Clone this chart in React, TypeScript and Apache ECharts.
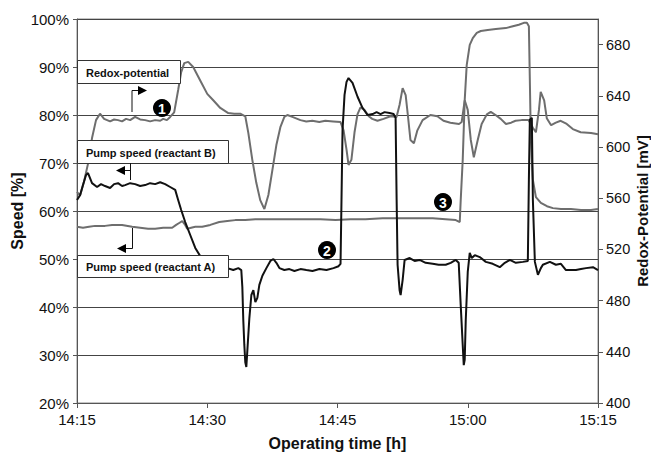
import React, { useEffect, useRef } from "react";
import * as echarts from "echarts";

// time in minutes after 14:15
const xTicks = ["14:15", "14:30", "14:45", "15:00", "15:15"];
const speedTicks = [20, 30, 40, 50, 60, 70, 80, 90, 100];
const redoxTicks = [400, 440, 480, 520, 560, 600, 640, 680];

// Redox-potential [mV] (right axis)
const redoxData: number[][] = [
  [0, 565], [0.35, 562], [0.81, 573], [1.27, 587], [1.73, 607], [2.19, 621], [2.65, 626], [3.12, 622],
  [3.81, 620], [4.27, 621.5], [4.73, 621], [5.19, 620], [5.65, 622], [6.12, 621], [6.69, 623.5],
  [7.27, 621.5], [7.85, 621], [8.42, 620], [9.0, 621], [9.58, 620.5], [9.92, 622], [10.35, 621],
  [10.73, 623.5], [11.19, 627], [11.65, 644.5], [12.0, 658.5], [12.35, 665.5], [12.81, 666.5],
  [13.38, 662.5], [14.19, 652], [15.0, 641.5], [15.69, 636.5], [16.5, 630.5], [17.42, 626.5],
  [18.1, 626], [18.8, 626], [19.38, 624], [19.73, 611], [20.19, 590], [20.65, 572], [21.1, 558.5],
  [21.58, 551.5], [22.04, 562.5], [22.5, 582], [22.96, 601.5], [23.42, 615.5], [23.88, 623.5],
  [24.23, 625], [24.8, 623.5], [25.73, 621], [26.4, 620], [27.1, 620.5], [27.9, 619.5], [28.6, 620.5],
  [29.5, 620], [30.35, 619.5], [30.7, 613], [31.04, 598], [31.27, 586], [31.6, 590], [31.96, 611.5],
  [32.3, 625.5], [32.65, 631], [33.1, 629], [33.6, 624], [34.0, 622], [34.6, 620.5], [35.3, 622],
  [36.1, 624], [36.8, 623.5], [37.15, 633], [37.5, 646], [37.85, 640.5], [38.1, 625], [38.4, 605.5],
  [38.8, 603], [39.2, 613], [39.8, 621], [40.7, 625], [41.5, 624], [42.2, 620.5], [43.0, 619],
  [44.0, 618], [44.3, 619.5], [44.65, 636.5], [45.0, 629], [45.35, 605.5], [45.7, 592], [46.15, 605.5],
  [46.6, 618], [47.2, 625.5], [47.65, 627.5], [48.2, 625], [48.8, 622], [49.4, 618], [50.0, 619],
  [50.5, 620.5], [51.2, 621], [52.0, 621], [52.5, 615], [52.85, 611.5], [53.2, 629], [53.4, 643],
  [53.8, 636.5], [54.1, 622.5], [54.6, 617], [55.15, 619], [55.7, 620.5], [56.4, 618], [57.1, 614],
  [58.0, 611.5], [59.2, 611], [60, 610],
];

// Pump speed (reactant B) [%] (black)
const pumpBData: number[][] = [
  [0, 62.3], [0.35, 63.3], [0.69, 65.4], [1.04, 67.5], [1.27, 67.9], [1.73, 65.8], [2.31, 65.0],
  [2.77, 65.6], [3.23, 65.2], [3.81, 64.8], [4.27, 65.6], [4.73, 65.8], [5.19, 65.2], [5.54, 65.4],
  [6.12, 65.8], [6.69, 65.6], [7.27, 65.2], [7.85, 65.4], [8.42, 65.8], [9.0, 65.6], [9.58, 66.0],
  [10.15, 65.6], [10.73, 65.0], [11.31, 64.4], [11.65, 62.3], [12.0, 60.2], [12.46, 57.7],
  [13.04, 55.0], [13.62, 52.3], [14.19, 50.6], [14.88, 49.4], [15.69, 48.8], [16.5, 48.3],
  [17.31, 48.1], [18.0, 47.7], [18.58, 48.1], [18.92, 47.7], [19.04, 44.2], [19.15, 37.3],
  [19.27, 32.1], [19.38, 28.5], [19.5, 27.5], [19.62, 31.0], [19.85, 37.7], [20.08, 42.5],
  [20.31, 43.5], [20.54, 41.0], [20.77, 41.9], [21.0, 44.6], [21.35, 46.5], [21.81, 48.1],
  [22.27, 49.6], [22.62, 50.0], [22.96, 49.2], [23.31, 48.1], [23.88, 47.7], [24.46, 47.9],
  [25.04, 47.5], [25.73, 47.9], [26.42, 47.7], [27.12, 47.5], [27.92, 47.9], [28.73, 47.7],
  [29.54, 48.1], [30.12, 48.5], [30.35, 49.0], [30.46, 62.3], [30.58, 76.9], [30.81, 84.2],
  [31.04, 86.9], [31.27, 87.7], [31.73, 86.7], [32.31, 83.8], [32.88, 81.5], [33.46, 80.0],
  [34.04, 80.2], [34.5, 80.6], [34.96, 80.2], [35.42, 80.6], [36.0, 80.4], [36.46, 80.2],
  [36.69, 79.4], [36.81, 62.3], [36.92, 48.8], [37.15, 43.5], [37.27, 42.5], [37.5, 45.6],
  [37.73, 49.8], [38.31, 50.2], [38.88, 49.6], [39.46, 49.8], [40.15, 49.2], [40.96, 49.0],
  [41.65, 48.8], [42.46, 48.8], [43.04, 49.2], [43.62, 49.8], [43.96, 49.2], [44.19, 40.4],
  [44.42, 32.1], [44.54, 27.9], [44.65, 29.0], [44.77, 37.3], [45.0, 47.3], [45.23, 51.3],
  [45.46, 50.2], [45.81, 50.8], [46.38, 50.4], [47.08, 49.4], [47.88, 49.0], [48.69, 48.3],
  [49.27, 49.2], [49.85, 49.8], [50.54, 49.2], [51.35, 49.4], [51.92, 49.6], [52.04, 66.5],
  [52.15, 79.0], [52.38, 79.4], [52.5, 62.3], [52.73, 49.4], [53.08, 46.7], [53.42, 48.1],
  [53.65, 48.8], [54.46, 49.4], [55.15, 48.8], [55.73, 49.0], [56.31, 47.7], [56.88, 47.7],
  [57.46, 47.7], [58.04, 47.9], [58.62, 48.1], [59.42, 48.3], [60, 47.7],
];

// Pump speed (reactant A) [%] (grey)
const pumpAData: number[][] = [
  [0, 56.7], [0.69, 56.5], [1.38, 56.7], [2.08, 56.9], [3.23, 56.9], [4.04, 57.1], [5.19, 57.1],
  [6.35, 56.7], [7.27, 56.5], [8.19, 56.3], [9.0, 56.3], [9.92, 56.5], [10.96, 56.5], [11.42, 57.1],
  [11.77, 57.5], [12.12, 57.9], [12.46, 57.1], [12.69, 56.3], [13.15, 56.5], [13.62, 56.7],
  [14.42, 56.7], [15.35, 57.1], [16.38, 57.7], [17.31, 57.9], [18.23, 58.1], [19.38, 58.1],
  [20.54, 58.3], [22.15, 58.3], [24.0, 58.3], [25.96, 58.3], [28.04, 58.3], [29.77, 58.1],
  [31.5, 58.3], [33.23, 58.3], [35.19, 58.5], [37.15, 58.5], [39.0, 58.5], [40.96, 58.5],
  [42.46, 58.3], [43.62, 58.1], [44.08, 57.7], [44.19, 62.3], [44.42, 70.6], [44.65, 83.1],
  [44.88, 90.4], [45.23, 94.6], [45.58, 96.0], [46.04, 97.1], [46.5, 97.5], [47.3, 97.7],
  [48.23, 97.9], [49.38, 98.1], [50.19, 98.5], [50.88, 98.8], [51.46, 99.2], [51.81, 99.2],
  [52.04, 98.5], [52.15, 87.3], [52.27, 74.8], [52.5, 66.5], [52.85, 62.9], [53.42, 61.7],
  [54.12, 61.0], [54.81, 60.6], [55.73, 60.4], [56.88, 60.4], [58.04, 60.2], [59.19, 60.2], [60, 60.4],
];

const GREY = "#6e6e6e";
const BLACK = "#111111";
const FONT = "'Liberation Sans', Arial, sans-serif";

function fmtTime(v: number) {
  const total = 14 * 60 + 15 + v;
  const h = Math.floor(total / 60);
  const m = Math.round(total % 60);
  return `${h}:${m < 10 ? "0" + m : m}`;
}

function labelBox(x: number, y: number, w: number, h: number, text: string) {
  return [
    { type: "rect", z: 100, shape: { x: x + 0.5, y: y + 0.5, width: w, height: h }, style: { fill: "#fff", stroke: "#333", lineWidth: 1 } },
    { type: "text", z: 101, x: x + 9, y: y + h / 2 + 1, style: { text, font: `bold 11px ${FONT}`, fill: "#111", verticalAlign: "middle" } },
  ];
}

function marker(cx: number, cy: number, n: string) {
  return [
    { type: "circle", z: 100, shape: { cx, cy, r: 9 }, style: { fill: "#000" } },
    { type: "text", z: 101, x: cx, y: cy + 1, style: { text: n, font: `bold 14px ${FONT}`, fill: "#fff", align: "center", verticalAlign: "middle" } },
  ];
}

function arrowLine(points: number[][], tip: number[], dir: "left" | "right") {
  const [tx, ty] = tip;
  const b = dir === "right" ? tx - 9 : tx + 9;
  return [
    { type: "polyline", z: 100, shape: { points }, style: { stroke: "#111", lineWidth: 1, fill: "none" } },
    { type: "polygon", z: 100, shape: { points: [[tx, ty], [b, ty - 4.5], [b, ty + 4.5]] }, style: { fill: "#000" } },
  ];
}

export default function App() {
  const ref = useRef<HTMLDivElement>(null);
  useEffect(() => {
    if (!ref.current) return;
    const chart = echarts.init(ref.current, null, { renderer: "svg" });
    const option: any = {
      animation: false,
      backgroundColor: "#fff",
      textStyle: { fontFamily: FONT },
      grid: { left: 77, right: 53, top: 19, bottom: 52, show: true, borderColor: "#8a8a8a", borderWidth: 1, outerBoundsMode: "none" },
      xAxis: {
        type: "value", min: 0, max: 60, interval: 15,
        name: "Operating time [h]", nameLocation: "middle", nameGap: 32, nameMoveOverlap: false,
        nameTextStyle: { fontFamily: FONT, fontWeight: "bold", fontSize: 16, color: "#111" },
        axisLine: { lineStyle: { color: "#555" } },
        axisTick: { show: true, length: 5, lineStyle: { color: "#555" } },
        axisLabel: { fontFamily: FONT, fontSize: 15, color: "#111", margin: 9, formatter: (v: number) => fmtTime(v) },
        splitLine: { show: false },
      },
      yAxis: [
        {
          type: "value", min: 20, max: 100, interval: 10, position: "left",
          name: "Speed [%]", nameLocation: "middle", nameGap: 52, nameMoveOverlap: false,
          nameTextStyle: { fontFamily: FONT, fontWeight: "bold", fontSize: 16, color: "#111" },
          axisLine: { show: true, lineStyle: { color: "#555" } },
          axisTick: { show: true, length: 4, lineStyle: { color: "#555" } },
          axisLabel: { fontFamily: FONT, fontSize: 15, color: "#111", margin: 8, formatter: "{value}%" },
          splitLine: { show: true, lineStyle: { color: "#444", width: 1 } },
        },
        {
          type: "value", min: 400, max: 700, position: "right",
          name: "Redox-Potential [mV]", nameLocation: "middle", nameGap: 37, nameMoveOverlap: false,
          nameTextStyle: { fontFamily: FONT, fontWeight: "bold", fontSize: 15, color: "#111" },
          axisLine: { show: true, lineStyle: { color: "#555" } },
          axisTick: { show: true, length: 5, lineStyle: { color: "#555" }, customValues: redoxTicks },
          axisLabel: { fontFamily: FONT, fontSize: 14.5, color: "#111", margin: 8, customValues: redoxTicks },
          splitLine: { show: false },
        },
      ],
      series: [
        { name: "Pump speed (reactant A)", type: "line", yAxisIndex: 0, data: pumpAData, showSymbol: false, lineStyle: { color: GREY, width: 2 }, itemStyle: { color: GREY }, z: 2 },
        { name: "Redox-potential", type: "line", yAxisIndex: 1, data: redoxData, showSymbol: false, lineStyle: { color: GREY, width: 2 }, itemStyle: { color: GREY }, z: 3 },
        { name: "Pump speed (reactant B)", type: "line", yAxisIndex: 0, data: pumpBData, showSymbol: false, lineStyle: { color: BLACK, width: 2 }, itemStyle: { color: BLACK }, z: 4 },
      ],
      graphic: [
        ...labelBox(77, 60, 103, 23, "Redox-potential"),
        ...labelBox(77, 140, 151, 23, "Pump speed (reactant B)"),
        ...labelBox(77, 255, 151, 22, "Pump speed (reactant A)"),
        ...arrowLine([[132, 112], [132, 90.5], [139, 90.5]], [147, 90.5], "right"),
        ...arrowLine([[130.5, 163], [130.5, 180], [130.5, 170.5], [124, 170.5]], [116, 170.5], "left"),
        ...arrowLine([[132.5, 228], [132.5, 248.5], [125, 248.5]], [117, 248.5], "left"),
        ...marker(162, 108, "1"),
        ...marker(327, 250, "2"),
        ...marker(443, 202, "3"),
      ],
    };
    chart.setOption(option);
    return () => chart.dispose();
  }, []);
  return <div ref={ref} style={{ position: "fixed", left: 0, top: 0, width: 651, height: 455 }} />;
}
